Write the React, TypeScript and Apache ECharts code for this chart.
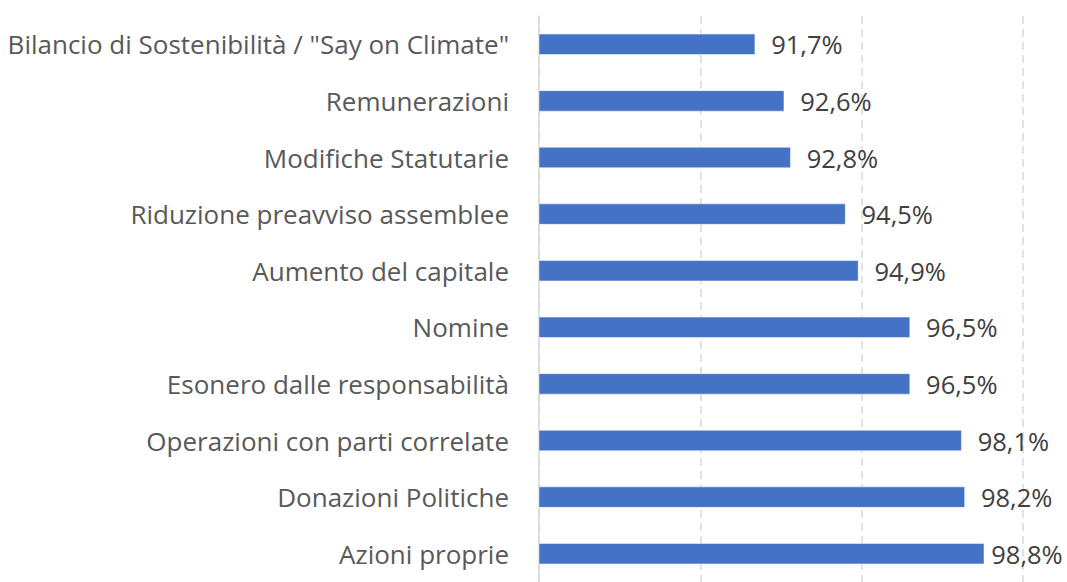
import React, { useEffect, useRef } from "react";
import * as echarts from "echarts";

const categories = [
  "Bilancio di Sostenibilità / \"Say on Climate\"",
  "Remunerazioni",
  "Modifiche Statutarie",
  "Riduzione preavviso assemblee",
  "Aumento del capitale",
  "Nomine",
  "Esonero dalle responsabilità",
  "Operazioni con parti correlate",
  "Donazioni Politiche",
  "Azioni proprie",
];

const values = [91.7, 92.6, 92.8, 94.5, 94.9, 96.5, 96.5, 98.1, 98.2, 98.8];

const axisMin = 85;
const axisMax = 100;
const axisInterval = 5;

export default function App() {
  const ref = useRef<HTMLDivElement>(null);

  useEffect(() => {
    if (!ref.current) return;
    const chart = echarts.init(ref.current, undefined, { renderer: "svg" });
    const last = values.length - 1;
    chart.setOption({
      animation: false,
      backgroundColor: "#ffffff",
      grid: { left: 539, top: 16, width: 484, height: 573, containLabel: false },
      xAxis: {
        type: "value",
        min: axisMin,
        max: axisMax,
        interval: axisInterval,
        axisLabel: { show: false },
        axisLine: { show: false },
        axisTick: { show: false },
        splitLine: {
          show: true,
          lineStyle: { color: "#d9d9d9", width: 1.5, type: [8, 5] },
        },
      },
      yAxis: {
        type: "category",
        data: categories,
        inverse: true,
        axisTick: { show: false },
        axisLine: { show: true, lineStyle: { color: "#d9d9d9", width: 1.5 } },
        axisLabel: {
          margin: 30,
          fontSize: 26,
          fontFamily: "Open Sans",
          color: "#595959",
        },
      },
      series: [
        {
          type: "bar",
          data: values.map((v, i) =>
            i === last ? { value: v, label: { distance: 7 } } : v
          ),
          barWidth: 21,
          itemStyle: { color: "#4472C4", borderColor: "#ffffff", borderWidth: 0.5 },
          label: {
            show: true,
            position: "right",
            distance: 16,
            fontSize: 25.5,
            fontFamily: "Open Sans",
            color: "#404040",
            formatter: (p: any) => p.value.toFixed(1).replace(".", ",") + "%",
          },
        },
      ],
    });
    return () => chart.dispose();
  }, []);

  return (
    <div
      ref={ref}
      style={{ position: "fixed", left: 0, top: 0, width: 1067, height: 582 }}
    />
  );
}
